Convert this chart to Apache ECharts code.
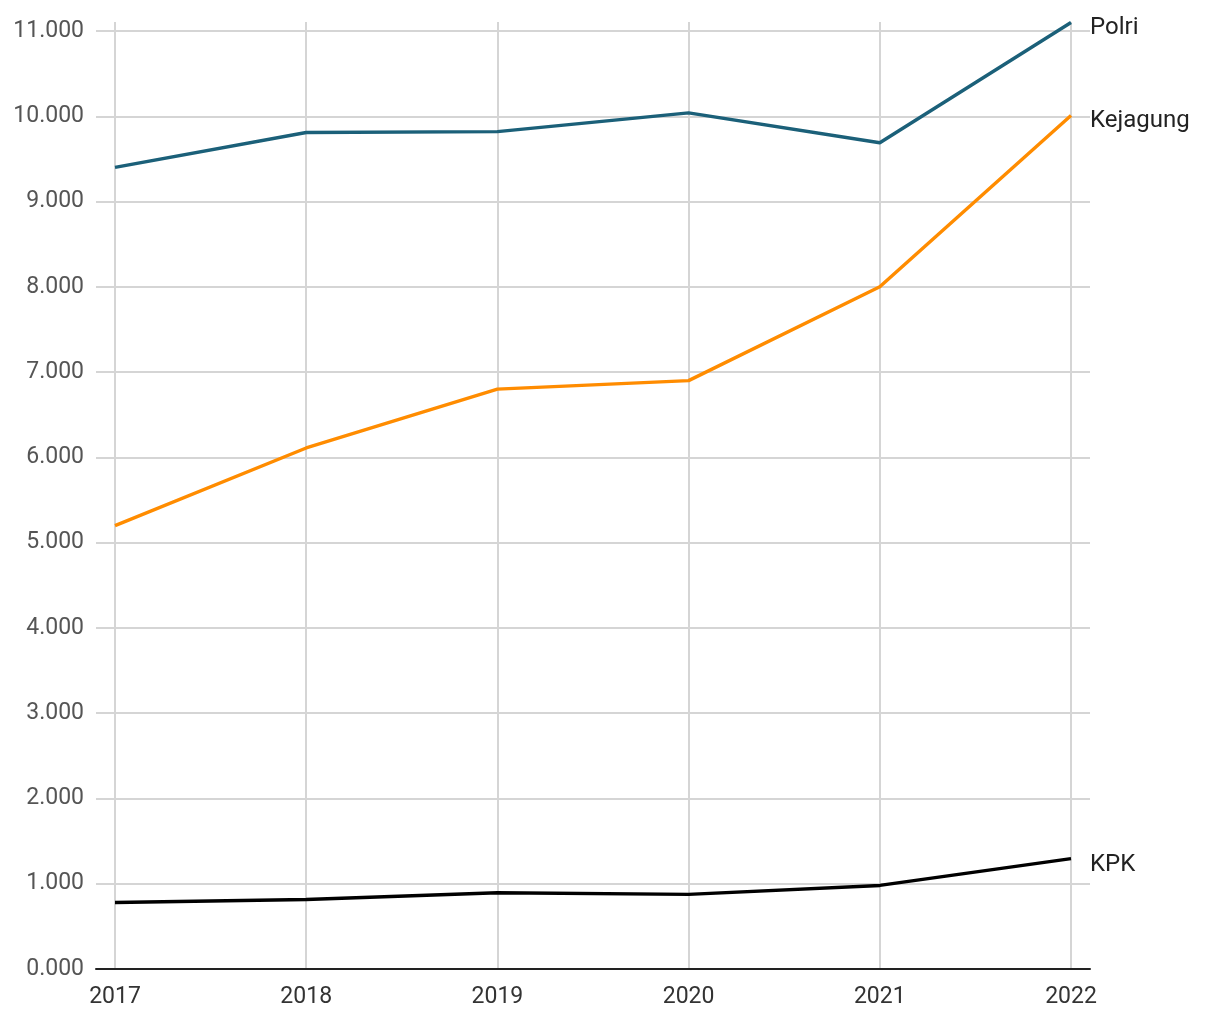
<!DOCTYPE html>
<html>
<head>
<meta charset="utf-8">
<script src="https://cdn.jsdelivr.net/npm/echarts@6/dist/echarts.min.js"></script>
<style>html,body{margin:0;padding:0;background:#fff;}#c{width:1220px;height:1020px;}</style>
</head>
<body>
<div id="c"></div>
<script>
const years = ['2017','2018','2019','2020','2021','2022'];
const polri = [9400, 9810, 9820, 10040, 9690, 11100];
const kejagung = [5200, 6110, 6800, 6900, 8000, 10010];
const kpk = [780, 815, 895, 875, 980, 1295];
const yTicks = [0,1000,2000,3000,4000,5000,6000,7000,8000,9000,10000,11000];

function fmt(v){
  const th = Math.floor(v/1000);
  const rest = String(v%1000).padStart(3,'0');
  return th + '.' + rest;
}

const chart = echarts.init(document.getElementById('c'), null, {renderer:'canvas'});
const FONT = 'Roboto';
const topA = 31, bottom = 51, topB = 22;
const plotH = 1020 - bottom - topA;
const plotHB = 1020 - bottom - topB;
const maxB = 11000 * plotHB / plotH;

function mk(name, data, color){
  return {
    name, type:'line', data, xAxisIndex:1, yAxisIndex:1,
    symbol:'none', smooth:false,
    lineStyle:{color, width:3.4},
    itemStyle:{color},
    endLabel:{show:true, formatter:'{a}', color:'#222', fontFamily:FONT, fontSize:24, distance:19, offset:[0,6]},
    animation:false
  };
}

chart.setOption({
  animation:false,
  grid:[
    {left:96, right:130, top:topA, bottom:bottom},
    {left:115, right:149, top:topB, bottom:bottom}
  ],
  xAxis:[
    {gridIndex:0, type:'value', min:0, max:1, axisLine:{show:true, lineStyle:{color:'#222', width:2}},
     axisTick:{show:false}, axisLabel:{show:false}, splitLine:{show:false}},
    {gridIndex:1, type:'category', data:years, boundaryGap:false,
     axisLine:{show:false}, axisTick:{show:false},
     axisLabel:{color:'#333', fontFamily:FONT, fontSize:23, margin:17},
     splitLine:{show:true, lineStyle:{color:'#d5d5d5', width:2}}}
  ],
  yAxis:[
    {gridIndex:0, type:'value', min:yTicks[0], max:yTicks[yTicks.length-1], interval:1000,
     axisLine:{show:false}, axisTick:{show:false},
     axisLabel:{color:'#555', fontFamily:FONT, fontSize:23, margin:12, formatter:fmt},
     splitLine:{show:true, lineStyle:{color:'#d5d5d5', width:2}}},
    {gridIndex:1, type:'value', min:0, max:maxB, show:false, splitLine:{show:false}}
  ],
  series:[
    mk('Polri', polri, '#1b6079'),
    mk('Kejagung', kejagung, '#ff8c00'),
    mk('KPK', kpk, '#000000')
  ]
});
</script>
</body>
</html>
